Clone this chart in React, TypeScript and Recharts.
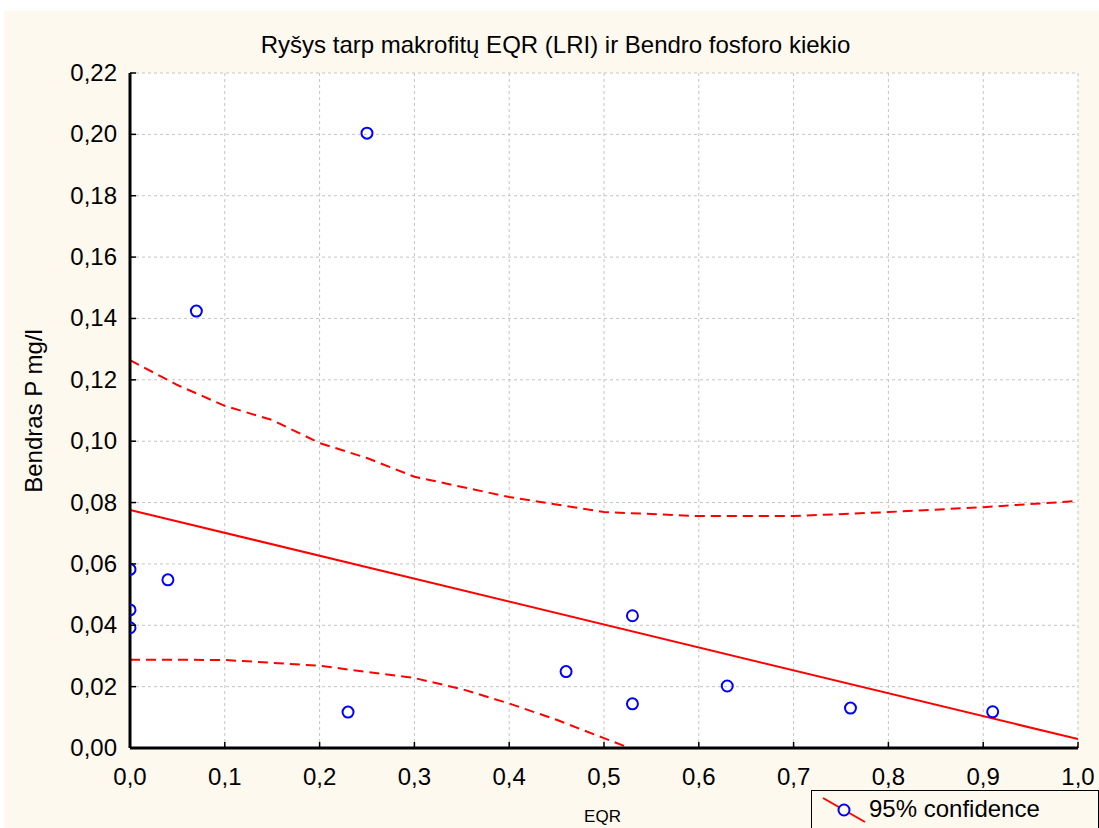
import {
  ComposedChart,
  Scatter,
  Line,
  XAxis,
  YAxis,
  CartesianGrid,
} from "recharts";

// measured points (EQR vs total phosphorus)
const eqr = [0.0, 0.0, 0.0, 0.04, 0.07, 0.23, 0.25, 0.46, 0.53, 0.53, 0.63, 0.76, 0.91];
const totalP = [0.0582, 0.045, 0.0392, 0.0548, 0.1424, 0.0117, 0.2004, 0.0249, 0.0431, 0.0144, 0.0202, 0.013, 0.0118];

// fitted line
const fitX = [0, 1];
const fitY = [0.0776, 0.0029];

// 95% confidence bands
const upperX = [0, 0.05, 0.1, 0.15, 0.2, 0.25, 0.3, 0.4, 0.5, 0.6, 0.7, 0.8, 0.9, 1.0];
const upperY = [0.1264, 0.1183, 0.1115, 0.1069, 0.0994, 0.0945, 0.0884, 0.0818, 0.0769, 0.0756, 0.0756, 0.0769, 0.0785, 0.0805];
const lowerX = [0, 0.1, 0.2, 0.3, 0.35, 0.4, 0.45, 0.5, 0.527];
const lowerY = [0.0288, 0.0287, 0.0268, 0.0228, 0.0192, 0.0145, 0.0092, 0.0032, 0];

const xTicks = [0, 0.1, 0.2, 0.3, 0.4, 0.5, 0.6, 0.7, 0.8, 0.9, 1.0];
const yTicks = [0, 0.02, 0.04, 0.06, 0.08, 0.1, 0.12, 0.14, 0.16, 0.18, 0.2, 0.22];

const points = eqr.map((x, i) => ({ x, y: totalP[i] }));
const fit = fitX.map((x, i) => ({ x, y: fitY[i] }));
const upper = upperX.map((x, i) => ({ x, y: upperY[i] }));
const lower = lowerX.map((x, i) => ({ x, y: lowerY[i] }));

const FONT = '"Liberation Sans", Arial, sans-serif';
const M = 8; // tick margin used to recover axis position in custom ticks
const TL = 6; // inward tick length

const BottomTick = ({ x, y, payload }: any) => {
  const ay = y - M;
  return (
    <g>
      <line x1={x} x2={x} y1={ay} y2={ay - TL} stroke="#000" strokeWidth={1.5} />
      <text x={x} y={ay + 37} textAnchor="middle" fontSize={24} fill="#000" fontFamily={FONT}>
        {payload.value.toFixed(1).replace(".", ",")}
      </text>
    </g>
  );
};

const TopTick = ({ x, y }: any) => {
  const ay = y + M;
  return <line x1={x} x2={x} y1={ay} y2={ay + TL} stroke="#000" strokeWidth={1.5} />;
};

const LeftTick = ({ x, y, payload }: any) => {
  const ax = x + M;
  return (
    <g>
      <line x1={ax} x2={ax + TL} y1={y} y2={y} stroke="#000" strokeWidth={1.5} />
      <text x={ax - 13} y={y + 8} textAnchor="end" fontSize={24} fill="#000" fontFamily={FONT}>
        {payload.value.toFixed(2).replace(".", ",")}
      </text>
    </g>
  );
};

const RightTick = ({ x, y }: any) => {
  const ax = x - M;
  return <line x1={ax} x2={ax - TL} y1={y} y2={y} stroke="#000" strokeWidth={1.5} />;
};

const Ring = ({ cx, cy }: any) => (
  <circle cx={cx} cy={cy} r={5.5} fill="none" stroke="#0000ff" strokeWidth={2} />
);

const frame = { stroke: "#000", strokeWidth: 3 };

export default function App() {
  return (
    <div
      style={{
        position: "absolute",
        left: 0,
        top: 0,
        width: 1099,
        height: 828,
        background: "#fff",
        fontFamily: FONT,
        overflow: "hidden",
      }}
    >
      <div
        style={{
          position: "absolute",
          left: 4,
          top: 11,
          width: 1095,
          height: 817,
          background: "#fef9ef",
        }}
      />
      <div
        style={{
          position: "absolute",
          left: 0,
          top: 32.7,
          width: 1111,
          textAlign: "center",
          fontSize: 24,
          lineHeight: "24px",
          color: "#000",
        }}
      >
        Ryšys tarp makrofitų EQR (LRI) ir Bendro fosforo kiekio
      </div>
      <div
        style={{
          position: "absolute",
          left: 33.7,
          top: 411,
          transform: "translate(-50%, -50%) rotate(-90deg)",
          whiteSpace: "nowrap",
          fontSize: 24,
          lineHeight: "24px",
          color: "#000",
        }}
      >
        Bendras P mg/l
      </div>
      <div
        style={{
          position: "absolute",
          left: 602.5,
          top: 808,
          transform: "translateX(-50%)",
          fontSize: 17,
          lineHeight: "17px",
          color: "#000",
        }}
      >
        EQR
      </div>
      <div style={{ position: "absolute", left: 0, top: 0 }}>
        <ComposedChart
          width={1099}
          height={828}
          margin={{ top: 73, right: 21, left: 60, bottom: 30 }}
        >
          <CartesianGrid stroke="#c4c4c4" strokeDasharray="3 3" fill="#fff" />
          <XAxis
            dataKey="x"
            type="number"
            domain={[0, 1]}
            ticks={xTicks}
            allowDataOverflow
            height={50}
            tickSize={0}
            tickMargin={M}
            tick={BottomTick}
            axisLine={frame}
          />
          <XAxis
            xAxisId="top"
            orientation="top"
            dataKey="x"
            type="number"
            domain={[0, 1]}
            ticks={xTicks}
            height={0}
            tickSize={0}
            tickMargin={M}
            tick={TopTick}
            axisLine={frame}
          />
          <YAxis
            dataKey="y"
            type="number"
            domain={[0, 0.22]}
            ticks={yTicks}
            allowDataOverflow
            width={70}
            tickSize={0}
            tickMargin={M}
            tick={LeftTick}
            axisLine={frame}
          />
          <YAxis
            yAxisId="right"
            orientation="right"
            dataKey="y"
            type="number"
            domain={[0, 0.22]}
            ticks={yTicks}
            width={0}
            tickSize={0}
            tickMargin={M}
            tick={RightTick}
            axisLine={frame}
          />
          <Line
            data={upper}
            dataKey="y"
            type="linear"
            stroke="#ff0000"
            strokeWidth={2}
            strokeDasharray="10 6"
            dot={false}
            isAnimationActive={false}
          />
          <Line
            data={lower}
            dataKey="y"
            type="linear"
            stroke="#ff0000"
            strokeWidth={2}
            strokeDasharray="10 6"
            dot={false}
            isAnimationActive={false}
          />
          <Line
            data={fit}
            dataKey="y"
            type="linear"
            stroke="#ff0000"
            strokeWidth={2}
            dot={false}
            isAnimationActive={false}
          />
          <Scatter data={points} dataKey="y" shape={Ring} isAnimationActive={false} />
        </ComposedChart>
      </div>
      <div
        style={{
          position: "absolute",
          left: 811,
          top: 790,
          width: 286,
          height: 45,
          border: "1px solid #000",
          background: "#fef9ef",
        }}
      >
        <svg width={50} height={38} style={{ position: "absolute", left: 8, top: 4 }}>
          <line x1={3} y1={3} x2={45} y2={27} stroke="#ff0000" strokeWidth={2} />
          <circle cx={24} cy={15} r={5.5} fill="#fef9ef" stroke="#0000ff" strokeWidth={2} />
        </svg>
        <div
          style={{
            position: "absolute",
            left: 57,
            top: 5.7,
            fontSize: 24,
            lineHeight: "24px",
            whiteSpace: "nowrap",
            color: "#000",
          }}
        >
          95% confidence
        </div>
      </div>
    </div>
  );
}
